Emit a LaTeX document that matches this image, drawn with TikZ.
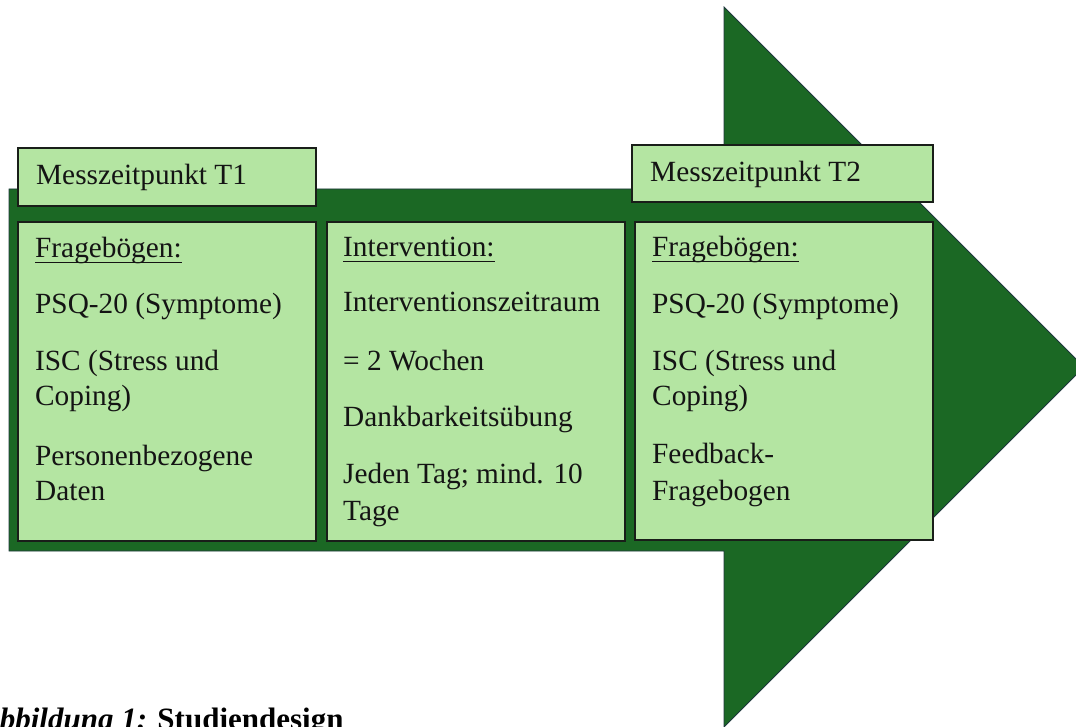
\documentclass[tikz,border=0pt]{standalone}
\usepackage{fontspec}
\setmainfont{Liberation Serif}
\definecolor{arrowgreen}{RGB}{27,104,36}
\definecolor{arrowline}{RGB}{30,55,60}
\definecolor{boxfill}{RGB}{180,229,162}
\definecolor{boxline}{RGB}{25,30,25}
\definecolor{txt}{RGB}{20,20,20}
\tikzset{
  panel/.style={draw=boxline, fill=boxfill, line width=1.8pt},
  ln/.style={anchor=base west, inner sep=0pt, text=txt, font=\fontsize{29.3}{35}\selectfont},
  uline/.style={draw=txt, line width=1.3pt},
}
\begin{document}
\begin{tikzpicture}[x=1pt,y=-1pt]
\useasboundingbox (0,0) rectangle (1076,727);
\clip (0,0) rectangle (1076,727);
% big arrow
\draw[fill=arrowgreen, draw=arrowline, line width=0.8pt]
  (9,189) -- (724,189) -- (724,7) -- (1084,367) -- (724,727) -- (724,551) -- (9,551) -- cycle;
% boxes
\draw[panel] (18,148) rectangle (316,206);
\draw[panel] (632,145) rectangle (933,202);
\draw[panel] (18,222) rectangle (316,541);
\draw[panel] (327,222) rectangle (625,541);
\draw[panel] (635,222) rectangle (933,540);
% header texts
\node[ln] (h1) at (36,185) {Messzeitpunkt T1};
\node[ln] (h2) at (650,182) {Messzeitpunkt T2};
% box 1
\node[ln] (a1) at (35,258) {Fragebögen:};
\draw[uline] ([yshift=-4.5pt]a1.base west) -- ([yshift=-4.5pt]a1.base east);
\node[ln] (a2) at (35,313) {PSQ-20 (Symptome)};
\node[ln] (a3) at (35,370) {ISC (Stress und};
\node[ln] (a4) at (35,405) {Coping)};
\node[ln] (a5) at (35,465) {Personenbezogene};
\node[ln] (a6) at (35,500) {Daten};
% box 2
\node[ln] (b1) at (343,257) {Intervention:};
\draw[uline] ([yshift=-4.5pt]b1.base west) -- ([yshift=-4.5pt]b1.base east);
\node[ln] (b2) at (343,312) {Interventionszeitraum};
\node[ln] (b3) at (343,370) {= 2 Wochen};
\node[ln] (b4) at (343,426) {Dankbarkeitsübung};
\node[ln] (b5) at (343,483) {Jeden Tag; mind. 10};
\node[ln] (b6) at (343,520) {Tage};
% box 3
\node[ln] (c1) at (652,257) {Fragebögen:};
\draw[uline] ([yshift=-4.5pt]c1.base west) -- ([yshift=-4.5pt]c1.base east);
\node[ln] (c2) at (652,313) {PSQ-20 (Symptome)};
\node[ln] (c3) at (652,370) {ISC (Stress und};
\node[ln] (c4) at (652,405) {Coping)};
\node[ln] (c5) at (652,463) {Feedback-};
\node[ln] (c6) at (652,500) {Fragebogen};
% caption
\node[anchor=base west, inner sep=0pt, text=black, font=\fontsize{31}{36}\selectfont\bfseries] (cap) at (-21,729)
  {{\itshape Abbildung 1:} Studiendesign};
\end{tikzpicture}
\end{document}
